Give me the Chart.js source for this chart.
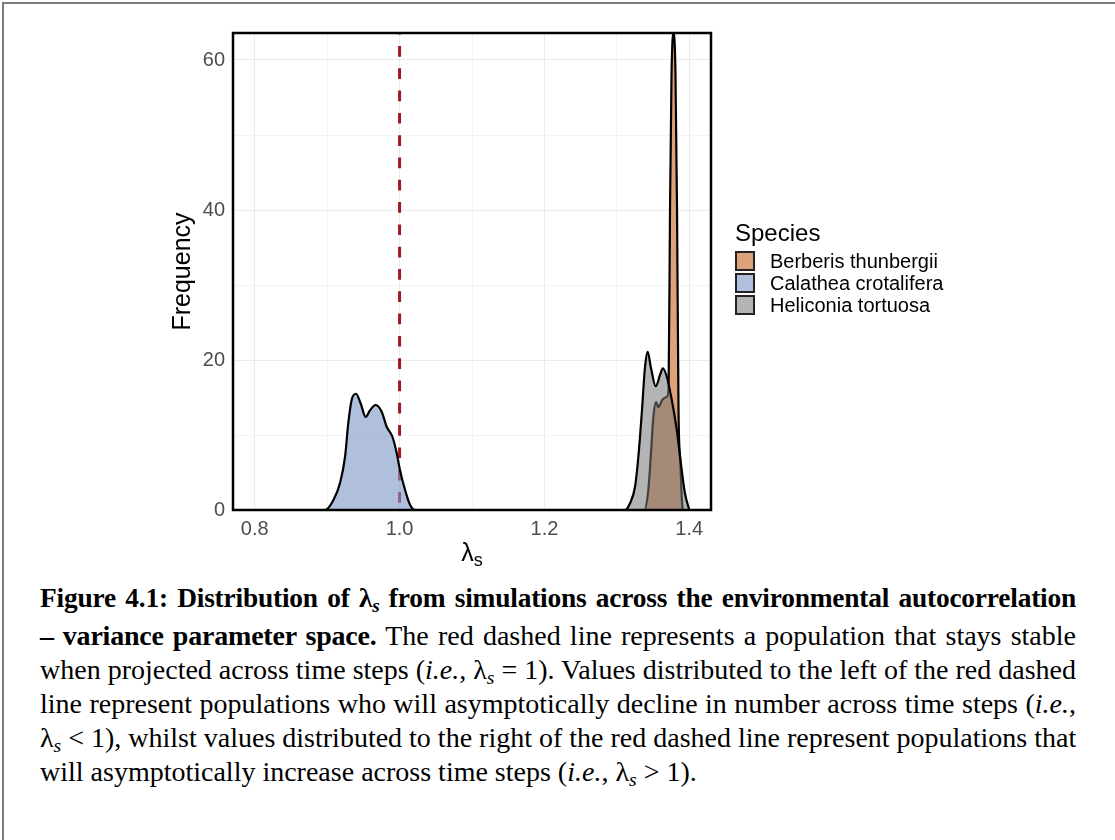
<!DOCTYPE html>
<html>
<head>
<meta charset="utf-8">
<script src="https://cdn.jsdelivr.net/npm/chart.js@4.4.1/dist/chart.umd.min.js"></script>
<style>
  html, body { margin: 0; padding: 0; background: #fff; }
  body { width: 1115px; height: 840px; position: relative; overflow: hidden; font-family: "Liberation Sans", Arial, sans-serif; }
  #frame { position: absolute; left: 2px; top: 2px; width: 1113px; height: 838px; border-left: 2px solid #7b7b7b; border-top: 2px solid #7b7b7b; }
  #chartBox { position: absolute; left: 0; top: 0; width: 1115px; height: 580px; }
  #legend { position: absolute; left: 735px; top: 216px; color: #000; }
  #legend .title { font-size: 24px; line-height: 34px; height: 34px; }
  #legend .item { display: flex; align-items: center; height: 22px; }
  #legend .key { width: 20px; height: 20px; box-sizing: border-box; border: 2px solid #222; margin-right: 15px; }
  #legend .lab { font-size: 20px; line-height: 22px; }
  #caption { position: absolute; left: 40px; top: 581px; width: 1036px; font-family: "Liberation Serif", "Times New Roman", serif; font-size: 28px; color: #000; }
  #caption .ln { height: 34px; line-height: 34px; white-space: nowrap; text-align: justify; text-align-last: justify; }
  #caption .ln.first { height: 38px; font-size: 27.4px; }
  #caption .ln.last { text-align: left; text-align-last: left; }
  #caption b { letter-spacing: -0.2px; }
  #caption sub { font-size: 0.7em; vertical-align: -0.25em; line-height: 0; }
</style>
</head>
<body>
<div id="frame"></div>
<div id="chartBox"><canvas id="c" width="1115" height="580"></canvas></div>
<div id="legend"></div>
<div id="caption">
  <div class="ln first"><b>Figure 4.1: Distribution of λ<sub><i>s</i></sub> from simulations across the environmental autocorrelation</b></div>
  <div class="ln"><b>– variance parameter space.</b> The red dashed line represents a population that stays stable</div>
  <div class="ln">when projected across time steps (<i>i.e.</i>, λ<sub><i>s</i></sub> = 1). Values distributed to the left of the red dashed</div>
  <div class="ln">line represent populations who will asymptotically decline in number across time steps (<i>i.e.</i>,</div>
  <div class="ln">λ<sub><i>s</i></sub> &lt; 1), whilst values distributed to the right of the red dashed line represent populations that</div>
  <div class="ln last">will asymptotically increase across time steps (<i>i.e.</i>, λ<sub><i>s</i></sub> &gt; 1).</div>
</div>
<script>
// Species shown in the legend, in legend order
const species = ['Berberis thunbergii', 'Calathea crotalifera', 'Heliconia tortuosa'];

// Density curves of the stochastic growth rate (lambda_s) per species
const berberisX = [0.80, 1.3379, 1.3435, 1.3468, 1.3504, 1.3541, 1.3573, 1.3628, 1.3689, 1.3714, 1.3734, 1.3755, 1.3783, 1.3810, 1.3831, 1.3852, 1.3879, 1.3900, 1.3921, 1.40];
const berberisY = [0,    0,      2.7,    7.1,    12.4,   14.4,   13.7,   14.7,   15.1,   16.0,   40.0,   58.0,   63.6,   58.0,   40.0,   13.0,   6.0,    1.0,    0,      0];

const calatheaX = [0.80, 0.8970, 0.9085, 0.9178, 0.9247, 0.9292, 0.9339, 0.9398, 0.9463, 0.9532, 0.9592, 0.9670, 0.9753, 0.9822, 0.9900, 0.9960, 1.0006, 1.0075, 1.0144, 1.0213, 1.40];
const calatheaY = [0,    0,      1.3,    3.6,    7.1,    11.6,   14.7,   15.5,   14.2,   12.4,   13.3,   14.0,   13.1,   11.1,   9.8,    7.6,    5.3,    2.7,    0.7,    0,      0];

const heliconiaX = [0.80, 1.3113, 1.3182, 1.3251, 1.3297, 1.3344, 1.3389, 1.3426, 1.3468, 1.3537, 1.3596, 1.3634, 1.3689, 1.3758, 1.3827, 1.3896, 1.3941, 1.40];
const heliconiaY = [0,    0,      0.9,    3.1,    7.1,    12.9,   19.1,   21.1,   19.1,   16.5,   18.0,   18.9,   17.8,   14.7,   10.7,   5.3,    2.2,    0];

// Axis ticks (major carry labels, minor only grid lines)
const xMajor = [0.8, 1.0, 1.2, 1.4];
const xMinor = [0.9, 1.1, 1.3];
const yMajor = [0, 20, 40, 60];
const yMinor = [10, 30, 50];

// Stable population reference
const stableLambda = 1.0;

const fills = ['#DEA27B', 'rgba(123,150,197,0.6)', 'rgba(119,119,119,0.55)'];
const keyFills = ['#DEA27B', '#B0C0DC', '#B4B4B4'];
const drawOrder = [3, 2, 1];   // Heliconia drawn on top
const seriesX = [berberisX, calatheaX, heliconiaX];
const seriesY = [berberisY, calatheaY, heliconiaY];

const SANS = '"Liberation Sans", Arial, sans-serif';
const isIn = (arr, v) => arr.some(a => Math.abs(a - v) < 1e-9);

const refLine = {
  id: 'refLine',
  beforeDatasetsDraw(chart) {
    const { ctx, chartArea: a, scales: { x } } = chart;
    const px = x.getPixelForValue(stableLambda);
    ctx.save();
    ctx.strokeStyle = '#A01820';
    ctx.lineWidth = 3;
    ctx.setLineDash([10.7, 11.6]);
    ctx.lineDashOffset = 9.3;
    ctx.beginPath();
    ctx.moveTo(px, a.top);
    ctx.lineTo(px, a.bottom);
    ctx.stroke();
    ctx.restore();
  }
};

const panelBorder = {
  id: 'panelBorder',
  afterDatasetsDraw(chart) {
    const { ctx, chartArea: a } = chart;
    ctx.save();
    ctx.strokeStyle = '#000';
    ctx.lineWidth = 2.5;
    ctx.strokeRect(a.left, a.top, a.right - a.left, a.bottom - a.top);
    ctx.restore();
  }
};

// x axis title: lambda with subscript s
const xTitle = {
  id: 'xTitle',
  afterDraw(chart) {
    const { ctx, chartArea: a } = chart;
    const cx = (a.left + a.right) / 2;
    ctx.save();
    ctx.fillStyle = '#000';
    ctx.textBaseline = 'alphabetic';
    ctx.textAlign = 'left';
    ctx.font = '25px ' + SANS;
    const wl = ctx.measureText('λ').width;
    ctx.font = '18px ' + SANS;
    const ws = ctx.measureText('s').width;
    const x0 = cx - (wl + ws) / 2;
    ctx.font = '25px ' + SANS;
    ctx.fillText('λ', x0, 561);
    ctx.font = '18px ' + SANS;
    ctx.fillText('s', x0 + wl, 566);
    ctx.restore();
  }
};

const gridColor = (majors) => (c) => (c.tick && isIn(majors, c.tick.value)) ? '#EBEBEB' : '#F3F3F3';

new Chart(document.getElementById('c'), {
  type: 'line',
  data: {
    datasets: species.map((name, i) => ({
      label: name,
      data: seriesX[i].map((x, j) => ({ x, y: seriesY[i][j] })),
      fill: 'origin',
      backgroundColor: fills[i],
      borderColor: '#000',
      borderWidth: 2.2,
      pointRadius: 0,
      cubicInterpolationMode: 'monotone',
      order: drawOrder[i]
    }))
  },
  options: {
    responsive: false,
    animation: false,
    events: [],
    layout: { padding: { left: 160, top: 33, right: 404, bottom: 0 } },
    plugins: { legend: { display: false }, tooltip: { enabled: false } },
    scales: {
      x: {
        type: 'linear',
        min: 0.77,
        max: 1.43,
        afterBuildTicks: (s) => { s.ticks = xMajor.concat(xMinor).sort((a, b) => a - b).map(v => ({ value: v })); },
        afterFit: (s) => { s.height = 70; },
        ticks: {
          autoSkip: false, maxRotation: 0, padding: 7, color: '#4D4D4D',
          font: { size: 20, family: SANS },
          callback: (v) => isIn(xMajor, v) ? v.toFixed(1) : ''
        },
        grid: { color: gridColor(xMajor), lineWidth: 1, drawTicks: false },
        border: { display: false }
      },
      y: {
        type: 'linear',
        min: 0,
        max: 63.6,
        afterBuildTicks: (s) => { s.ticks = yMajor.concat(yMinor).sort((a, b) => a - b).map(v => ({ value: v })); },
        afterFit: (s) => { s.width = 73; },
        ticks: {
          autoSkip: false, padding: 8, color: '#4D4D4D',
          font: { size: 20, family: SANS },
          callback: (v) => isIn(yMajor, v) ? String(v) : ''
        },
        title: { display: true, text: 'Frequency', color: '#000', font: { size: 25, family: SANS }, padding: { top: 8, bottom: 0 } },
        grid: { color: gridColor(yMajor), lineWidth: 1, drawTicks: false },
        border: { display: false }
      }
    }
  },
  plugins: [refLine, panelBorder, xTitle]
});

// Legend
const legend = document.getElementById('legend');
const t = document.createElement('div');
t.className = 'title';
t.textContent = 'Species';
legend.appendChild(t);
species.forEach((name, i) => {
  const row = document.createElement('div');
  row.className = 'item';
  const k = document.createElement('div');
  k.className = 'key';
  k.style.background = keyFills[i];
  const l = document.createElement('div');
  l.className = 'lab';
  l.textContent = name;
  row.appendChild(k);
  row.appendChild(l);
  legend.appendChild(row);
});
</script>
</body>
</html>
